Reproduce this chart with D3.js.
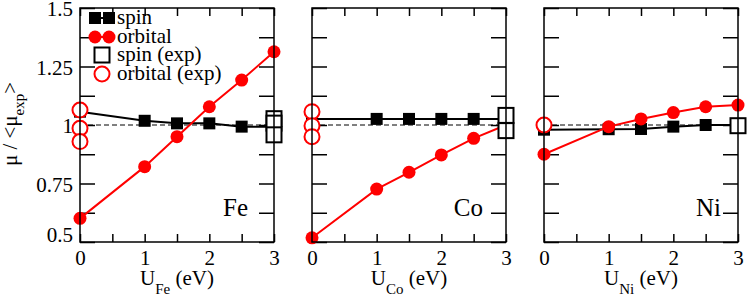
<!DOCTYPE html>
<html>
<head>
<meta charset="utf-8">
<script src="https://cdn.jsdelivr.net/npm/d3@7"></script>
<style>
  body { margin: 0; background: #fff; }
  .tick line { stroke: #000; stroke-width: 1.5; }
  .tick text { font-size: 21px; fill: #000; }
</style>
</head>
<body>
<svg id="chart" width="747" height="299"></svg>
<script>
// U values (eV) used for every panel
const uValues = [0, 1, 1.5, 2, 2.5, 3];

// ratio mu / <mu_exp>
const feSpin = [1.057, 1.018, 1.007, 1.007, 0.993, 0.993];
const feOrbital = [0.601, 0.822, 0.950, 1.078, 1.192, 1.313];
const coSpin = [1.026, 1.026, 1.026, 1.026, 1.026, 1.026];
const coOrbital = [0.518, 0.726, 0.798, 0.872, 0.943, 1.000];
const niSpin = [0.980, 0.982, 0.983, 0.993, 1.000, 1.000];
const niOrbital = [0.875, 0.993, 1.026, 1.053, 1.078, 1.085];

// experimental values (spin shown at U = 3, orbital at U = 0)
const feSpinExp = [1.027, 1.008, 0.958];
const feOrbitalExp = [1.064, 0.986, 0.929];
const coSpinExp = [1.041, 0.976];
const coOrbitalExp = [1.057, 0.997, 0.950];
const niSpinExp = [0.997];
const niOrbitalExp = [1.000];

const elements = ["Fe", "Co", "Ni"];
const yTickLabels = {0.5: "0.5", 0.75: "0.75", 1: "1", 1.25: "1.25", 1.5: "1.5"};
const legendLabels = ["spin", "orbital", "spin (exp)", "orbital (exp)"];

const panels = [
  {name: elements[0], spin: feSpin, orbital: feOrbital, spinExp: feSpinExp, orbitalExp: feOrbitalExp},
  {name: elements[1], spin: coSpin, orbital: coOrbital, spinExp: coSpinExp, orbitalExp: coOrbitalExp},
  {name: elements[2], spin: niSpin, orbital: niOrbital, spinExp: niSpinExp, orbitalExp: niOrbitalExp}
];

const config = {
  left: 80, top: 8, width: 194, height: 234, gap: 38,
  labelRight: [168, 171, 177]
};
const RED = "#ff0000";
const FONT = "Liberation Serif";

const svg = d3.select("#chart");

const xScale = d3.scaleLinear().domain([0, 3]).range([0, config.width]);
const yScale = d3.scaleLinear().domain([0.5, 1.5]).range([config.height, 0]);

const xTicks = d3.range(0, 3.001, 0.5);
const yTicks = d3.range(0.5, 1.501, 0.125);

panels.forEach((p, i) => {
  const g = svg.append("g")
      .attr("transform", `translate(${config.left + i * (config.width + config.gap)},${config.top})`);

  // axes with inward ticks
  g.append("g")
      .attr("transform", `translate(0,${config.height})`)
      .call(d3.axisBottom(xScale).tickValues(xTicks).tickSizeInner(-8).tickSizeOuter(0).tickPadding(8)
        .tickFormat(d => Number.isInteger(d) ? d : ""));
  g.append("g")
      .call(d3.axisTop(xScale).tickValues(xTicks).tickSizeInner(-8).tickSizeOuter(0).tickFormat(""));
  let yAxisG = g.append("g")
      .call(d3.axisLeft(yScale).tickValues(yTicks).tickSizeInner(-15).tickSizeOuter(0).tickPadding(7)
        .tickFormat(d => i === 0 && yTickLabels[d] ? yTickLabels[d] : ""));
  g.append("g")
      .attr("transform", `translate(${config.width},0)`)
      .call(d3.axisRight(yScale).tickValues(yTicks).tickSizeInner(-15).tickSizeOuter(0).tickFormat(""));
  g.selectAll(".domain").remove();
  g.selectAll("g").attr("font-size", null);
  yAxisG.selectAll(".tick text").attr("dy", "0.38em");
  // lowest label sits above the corner
  yAxisG.selectAll(".tick text").filter(d => d === 0.5).attr("dy", "-0.02em");

  // reference line at 1
  g.append("line")
      .attr("x1", 0).attr("x2", config.width)
      .attr("y1", yScale(1)).attr("y2", yScale(1))
      .attr("stroke", "#000").attr("stroke-width", 1).attr("stroke-dasharray", "5,3");

  const line = d3.line().x((d, j) => xScale(uValues[j])).y(d => yScale(d));

  // spin
  g.append("path").datum(p.spin).attr("d", line)
      .attr("fill", "none").attr("stroke", "#000").attr("stroke-width", 2);
  g.selectAll(".spin").data(p.spin).join("rect")
      .attr("class", "spin")
      .attr("x", (d, j) => xScale(uValues[j]) - 6).attr("y", d => yScale(d) - 6)
      .attr("width", 12).attr("height", 12).attr("fill", "#000");

  // orbital
  g.append("path").datum(p.orbital).attr("d", line)
      .attr("fill", "none").attr("stroke", RED).attr("stroke-width", 2);
  g.selectAll(".orb").data(p.orbital).join("circle")
      .attr("class", "orb")
      .attr("cx", (d, j) => xScale(uValues[j])).attr("cy", d => yScale(d))
      .attr("r", 6.5).attr("fill", RED);

  // experiment
  g.selectAll(".spinExp").data(p.spinExp).join("rect")
      .attr("class", "spinExp")
      .attr("x", xScale(3) - 7.5).attr("y", d => yScale(d) - 7.5)
      .attr("width", 15).attr("height", 15)
      .attr("fill", "#fff").attr("stroke", "#000").attr("stroke-width", 2);
  g.selectAll(".orbExp").data(p.orbitalExp).join("circle")
      .attr("class", "orbExp")
      .attr("cx", xScale(0)).attr("cy", d => yScale(d))
      .attr("r", 7.5).attr("fill", "#fff").attr("stroke", RED).attr("stroke-width", 2);

  // frame on top
  g.append("rect")
      .attr("width", config.width).attr("height", config.height)
      .attr("fill", "none").attr("stroke", "#000").attr("stroke-width", 1.5);

  // element name
  g.append("text")
      .attr("x", config.labelRight[i]).attr("y", 208)
      .attr("text-anchor", "end").attr("font-size", 25)
      .text(p.name);

  // x axis label
  const xl = g.append("text")
      .attr("x", config.width / 2).attr("y", 277)
      .attr("text-anchor", "middle").attr("font-size", 21);
  xl.append("tspan").text("U");
  xl.append("tspan").attr("font-size", 15).attr("dy", 9).text(p.name);
  xl.append("tspan").attr("dy", -9).text(" (eV)");
});

// y axis label
const yl = svg.append("text")
    .attr("transform", "translate(17,124) rotate(-90)")
    .attr("text-anchor", "middle").attr("font-size", 21);
yl.append("tspan").text("μ / <μ");
yl.append("tspan").attr("font-size", 15).attr("dy", 7).text("exp");
yl.append("tspan").attr("dy", -7).text(">");

// legend inside first panel
const legend = svg.append("g");
const rowY = [18, 37, 55, 74];
legend.append("line").attr("x1", 95).attr("x2", 109).attr("y1", rowY[0]).attr("y2", rowY[0])
    .attr("stroke", "#000").attr("stroke-width", 2);
[95, 109].forEach(x => legend.append("rect")
    .attr("x", x - 6).attr("y", rowY[0] - 6).attr("width", 12).attr("height", 12).attr("fill", "#000"));
legend.append("line").attr("x1", 95).attr("x2", 109).attr("y1", rowY[1]).attr("y2", rowY[1])
    .attr("stroke", RED).attr("stroke-width", 2);
[95, 109].forEach(x => legend.append("circle")
    .attr("cx", x).attr("cy", rowY[1]).attr("r", 6.5).attr("fill", RED));
legend.append("rect").attr("x", 102 - 7.5).attr("y", rowY[2] - 7.5).attr("width", 15).attr("height", 15)
    .attr("fill", "#fff").attr("stroke", "#000").attr("stroke-width", 2);
legend.append("circle").attr("cx", 102).attr("cy", rowY[3]).attr("r", 7.5)
    .attr("fill", "#fff").attr("stroke", RED).attr("stroke-width", 2);
legend.selectAll("text.leg").data(legendLabels).join("text")
    .attr("class", "leg")
    .attr("x", 117).attr("y", (d, k) => rowY[k] + 6)
    .attr("font-size", 21)
    .text(d => d);

// serif text everywhere
svg.selectAll("text").style("font-family", FONT);
</script>
</body>
</html>
